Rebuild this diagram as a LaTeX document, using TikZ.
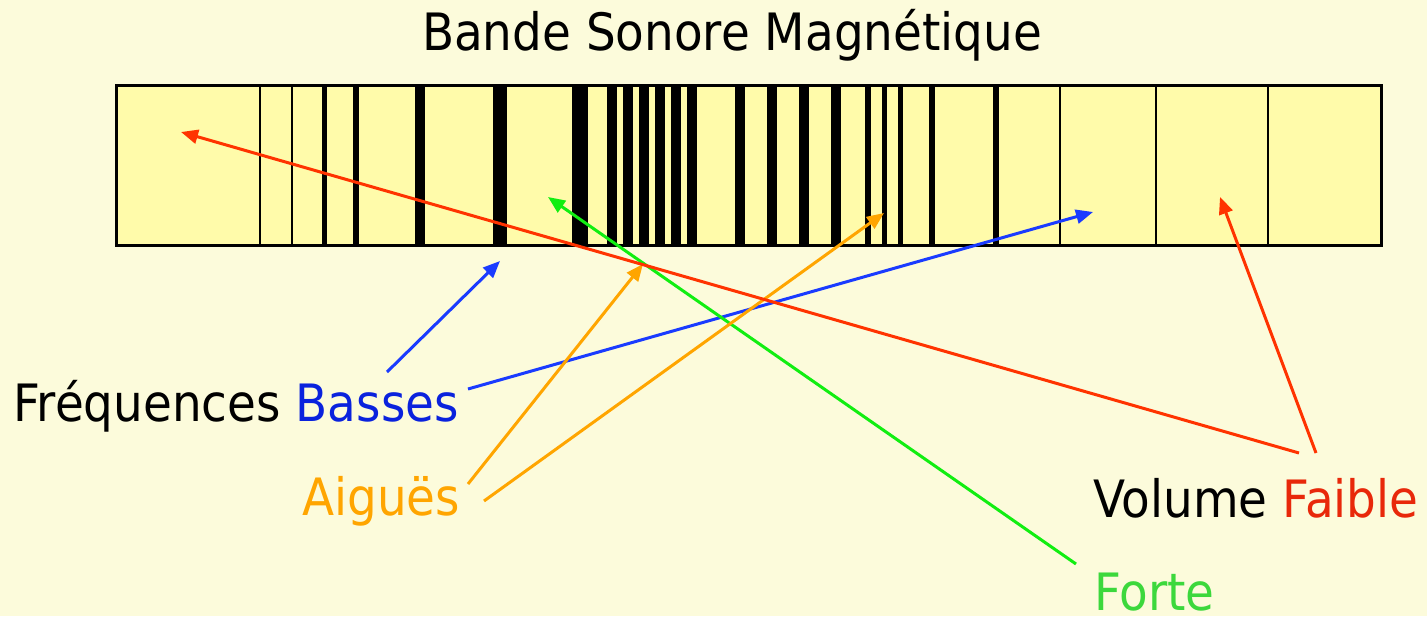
\documentclass[tikz,border=0pt]{standalone}
\usepackage{fontspec}
\setmainfont{DejaVu Sans}[FakeStretch=0.91]
\usetikzlibrary{arrows.meta}

\definecolor{pagebg}{HTML}{FCFBDB}
\definecolor{tapefill}{HTML}{FFFBAA}
\definecolor{lowred}{HTML}{FF3300}
\definecolor{lowredtxt}{HTML}{E8280A}
\definecolor{bassblue}{HTML}{1A3BFF}
\definecolor{bassbluetxt}{HTML}{0A22DD}
\definecolor{highorange}{HTML}{FFA500}
\definecolor{loudgreen}{HTML}{11EE11}
\definecolor{loudgreentxt}{HTML}{3CD83C}

\tikzset{
  label/.style={inner sep=0pt, font=\fontsize{51.5}{60}\selectfont},
  pointer/.style={line width=3pt, -{Triangle[length=17pt,width=14pt]}},
  bar/.style={fill=black},
}

\begin{document}
\begin{tikzpicture}[x=1pt,y=-1pt]
  % page
  \fill[pagebg] (0,0) rectangle (1427,616);
  \useasboundingbox (0,0) rectangle (1427,616);

  % title
  \node[label, anchor=base] (title) at (732,50) {Bande Sonore Magnétique};

  % magnetic tape
  \fill[tapefill] (116,85) rectangle (1381,245);
  % thin separators
  \foreach \x in {260,292,1060,1156,1268}
    \fill[bar] (\x-1.4,85) rectangle (\x+1.4,245);
  % recorded bars
  \foreach \a/\b in {322/327,353/359,415/425,493/507,572/588,
                     607/617,623/633,639/649,655/665,671/681,687/697,
                     735/745,767/777,799/809,831/841,
                     865/871,882/887,898/903,929/935,993/999}
    \fill[bar] (\a,85) rectangle (\b,245);
  \draw[line width=3pt] (116,85) rectangle (1381,245);

  % labels
  \node[label, anchor=base west] (freq) at (13,421) {Fréquences \textcolor{bassbluetxt}{Basses}};
  \node[label, anchor=base west, text=highorange] (aigues) at (302,515) {Aiguës};
  \node[label, anchor=base west] (volume) at (1093,517) {Volume \textcolor{lowredtxt}{Faible}};
  \node[label, anchor=base west, text=loudgreentxt] (forte) at (1094,610) {Forte};

  % pointer ends
  \coordinate (b1s) at (387,372);  \coordinate (b1e) at (500,261);
  \coordinate (b2s) at (468,389);  \coordinate (b2e) at (1093,212);
  \coordinate (o1s) at (468,484);  \coordinate (o1e) at (643,264);
  \coordinate (o2s) at (484,501);  \coordinate (o2e) at (884,213);
  \coordinate (gs)  at (1076,564); \coordinate (ge)  at (548,197);
  \coordinate (r1s) at (1299,453); \coordinate (r1e) at (181,132);
  \coordinate (r2s) at (1316,453); \coordinate (r2e) at (1220,197);

  % pointers
  \draw[pointer, bassblue] (b1s) -- (b1e);
  \draw[pointer, bassblue] (b2s) -- (b2e);
  \draw[pointer, loudgreen] (gs) -- (ge);
  \draw[pointer, highorange] (o1s) -- (o1e);
  \draw[pointer, highorange] (o2s) -- (o2e);
  \draw[pointer, lowred] (r1s) -- (r1e);
  \draw[pointer, lowred] (r2s) -- (r2e);
\end{tikzpicture}
\end{document}
